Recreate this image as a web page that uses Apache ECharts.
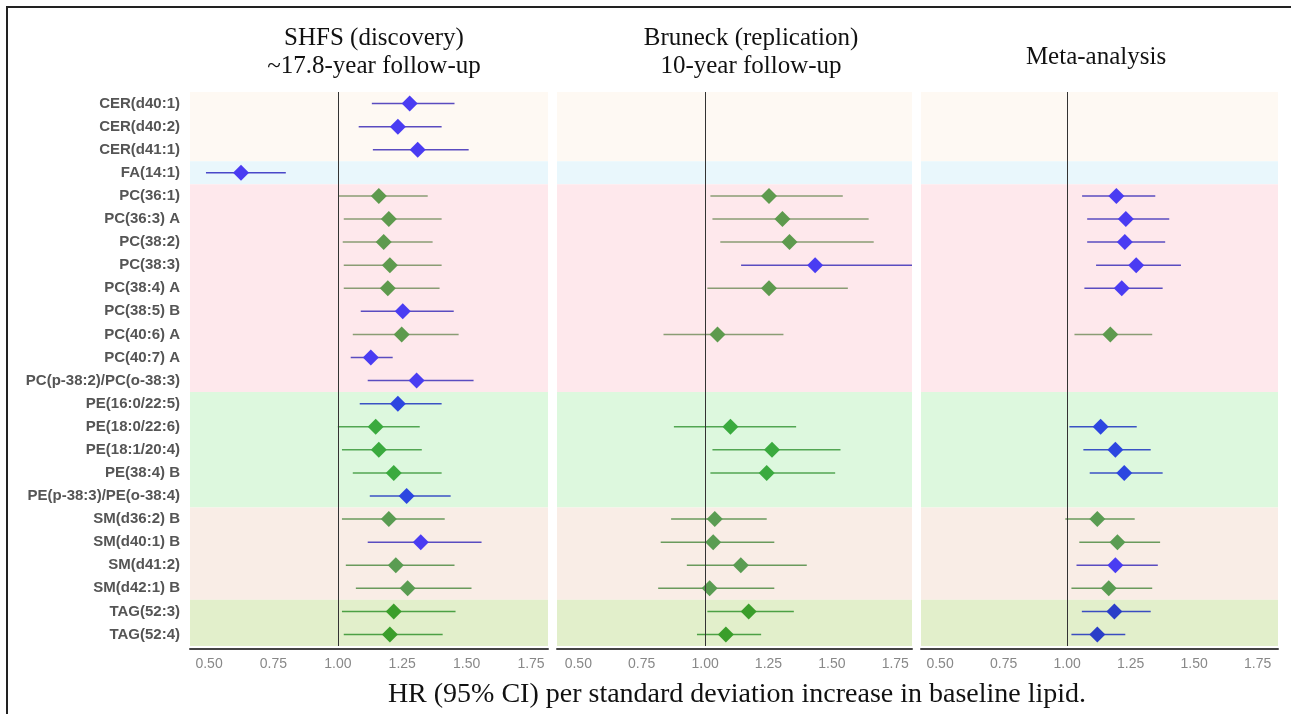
<!DOCTYPE html>
<html>
<head>
<meta charset="utf-8">
<script src="https://cdn.jsdelivr.net/npm/echarts@6/dist/echarts.min.js"></script>
<style>
  html, body { margin: 0; padding: 0; background: #fff; }
  #chart { width: 1291px; height: 714px; }
</style>
</head>
<body>
<div id="chart"></div>
<script>
// lipid species, top to bottom
const lipids = [
  'CER(d40:1)', 'CER(d40:2)', 'CER(d41:1)', 'FA(14:1)',
  'PC(36:1)', 'PC(36:3) A', 'PC(38:2)', 'PC(38:3)', 'PC(38:4) A', 'PC(38:5) B',
  'PC(40:6) A', 'PC(40:7) A', 'PC(p-38:2)/PC(o-38:3)',
  'PE(16:0/22:5)', 'PE(18:0/22:6)', 'PE(18:1/20:4)', 'PE(38:4) B', 'PE(p-38:3)/PE(o-38:4)',
  'SM(d36:2) B', 'SM(d40:1) B', 'SM(d41:2)', 'SM(d42:1) B',
  'TAG(52:3)', 'TAG(52:4)'
];

// SHFS (discovery)
const shfsHR = [1.279, 1.233, 1.310, 0.624, 1.159, 1.198, 1.178, 1.202, 1.194, 1.252, 1.248, 1.128, 1.306,
  1.233, 1.147, 1.159, 1.217, 1.267, 1.198, 1.322, 1.225, 1.271, 1.217, 1.202];
const shfsLo = [1.132, 1.081, 1.136, 0.488, 1.002, 1.023, 1.019, 1.023, 1.023, 1.089, 1.058, 1.050, 1.116,
  1.085, 1.000, 1.016, 1.058, 1.124, 1.016, 1.116, 1.031, 1.070, 1.016, 1.023];
const shfsHi = [1.453, 1.403, 1.508, 0.798, 1.349, 1.403, 1.368, 1.403, 1.395, 1.450, 1.469, 1.213, 1.527,
  1.403, 1.318, 1.326, 1.403, 1.438, 1.415, 1.558, 1.453, 1.519, 1.457, 1.407];
const shfsSig = ['b', 'b', 'b', 'b', 'g', 'g', 'g', 'g', 'g', 'b', 'g', 'b', 'b',
  'b', 'g', 'g', 'g', 'b', 'g', 'b', 'g', 'g', 'g', 'g'];

// Bruneck (replication)
const bruneckHR = [null, null, null, null, 1.252, 1.305, 1.333, 1.434, 1.252, null, 1.049, null, null,
  null, 1.100, 1.264, 1.243, null, 1.038, 1.032, 1.141, 1.018, 1.172, 1.082];
const bruneckLo = [null, null, null, null, 1.021, 1.029, 1.060, 1.142, 1.009, null, 0.836, null, null,
  null, 0.877, 1.029, 1.021, null, 0.866, 0.825, 0.928, 0.815, 1.009, 0.968];
const bruneckHi = [null, null, null, null, 1.543, 1.645, 1.665, 1.830, 1.563, null, 1.309, null, null,
  null, 1.359, 1.534, 1.513, null, 1.243, 1.273, 1.401, 1.273, 1.350, 1.221];
const bruneckSig = ['', '', '', '', 'g', 'g', 'g', 'b', 'g', '', 'g', '', '',
  '', 'g', 'g', 'g', '', 'g', 'g', 'g', 'g', 'g', 'g'];

// Meta-analysis
const metaHR = [null, null, null, null, 1.194, 1.231, 1.227, 1.272, 1.215, null, 1.170, null, null,
  null, 1.132, 1.190, 1.225, null, 1.119, 1.198, 1.190, 1.164, 1.186, 1.119];
const metaLo = [null, null, null, null, 1.059, 1.079, 1.079, 1.114, 1.068, null, 1.029, null, null,
  null, 1.009, 1.064, 1.089, null, 0.993, 1.048, 1.037, 1.017, 1.058, 1.017];
const metaHi = [null, null, null, null, 1.347, 1.402, 1.386, 1.448, 1.376, null, 1.335, null, null,
  null, 1.274, 1.329, 1.376, null, 1.266, 1.366, 1.357, 1.335, 1.329, 1.229];
const metaSig = ['', '', '', '', 'b', 'b', 'b', 'b', 'b', '', 'g', '', '',
  '', 'b', 'b', 'b', '', 'g', 'g', 'b', 'g', 'b', 'b'];

const xTicks = [0.5, 0.75, 1.0, 1.25, 1.5, 1.75];

// background colour per lipid class
const bandColors = {
  CER: '#fef9f3', FA: '#e9f7fc', PC: '#fee8ec', PE: '#ddf8de', SM: '#f9ede6', TAG: '#e2efcb'
};
// marker / whisker colours per class and colour group
const palette = {
  b: { CER: ['#4a3cf2', '#5a4cc0'], FA: ['#4a3cf2', '#4a48c8'], PC: ['#4a3cf2', '#5a4cc0'],
       PE: ['#2c46e0', '#3a52c4'], SM: ['#4a3cf2', '#5a4cc0'], TAG: ['#2a3ec8', '#3a4cc0'] },
  g: { CER: ['#5e9a4e', '#8a9c74'], FA: ['#5e9a4e', '#8a9c74'], PC: ['#5e9a4e', '#8a9c74'],
       PE: ['#3aaa3e', '#52a652'], SM: ['#5a9c52', '#6a9a5c'], TAG: ['#3a9e2a', '#4ca044'] }
};

const lipidClass = name => name.split('(')[0];

// contiguous class bands
const bands = [];
lipids.forEach((name, i) => {
  const c = lipidClass(name);
  const last = bands[bands.length - 1];
  if (last && last.cls === c) last.end = i;
  else bands.push({ cls: c, start: i, end: i });
});

const panels = [
  { hr: shfsHR, lo: shfsLo, hi: shfsHi, sig: shfsSig, left: 190, width: 358 },
  { hr: bruneckHR, lo: bruneckLo, hi: bruneckHi, sig: bruneckSig, left: 557, width: 355 },
  { hr: metaHR, lo: metaLo, hi: metaHi, sig: metaSig, left: 921, width: 357 }
];
const xRanges = [[0.426, 1.816], [0.416, 1.816], [0.425, 1.830]];

const serif = '"Liberation Serif", "Times New Roman", serif';
const sans = '"Liberation Sans", Arial, sans-serif';

const chart = echarts.init(document.getElementById('chart'), null, { renderer: 'canvas' });

const grids = [], xAxes = [], yAxes = [], series = [];
panels.forEach((p, k) => {
  grids.push({ left: p.left, width: p.width, top: 92, bottom: 68 });
  xAxes.push({
    type: 'value', gridIndex: k, min: xRanges[k][0], max: xRanges[k][1], offset: 3,
    axisLine: { show: true, onZero: false, lineStyle: { color: '#444', width: 2 } },
    axisTick: { show: false },
    splitLine: { show: false },
    axisLabel: {
      customValues: xTicks, formatter: v => v.toFixed(2),
      color: '#888', fontFamily: sans, fontSize: 14, margin: 8
    }
  });
  yAxes.push({
    type: 'value', gridIndex: k, min: -0.5, max: 23.5, inverse: true,
    axisLine: { show: false }, axisTick: { show: false }, splitLine: { show: false },
    axisLabel: {
      show: k === 0,
      customValues: lipids.map((_, i) => i),
      formatter: v => lipids[Math.round(v)] || '',
      color: '#555', fontFamily: sans, fontSize: 15, fontWeight: 'bold', margin: 10
    }
  });

  const ciData = [], ptData = [];
  p.hr.forEach((v, i) => {
    if (v == null) return;
    const cols = palette[p.sig[i]][lipidClass(lipids[i])];
    ciData.push({ value: [p.lo[i], p.hi[i], i], itemStyle: { color: cols[1] } });
    ptData.push({ value: [v, i], itemStyle: { color: cols[0], opacity: 1 } });
  });

  series.push({
    type: 'custom', xAxisIndex: k, yAxisIndex: k, clip: true, silent: true,
    encode: { x: [0, 1], y: 2 },
    data: ciData,
    renderItem: (params, api) => {
      const a = api.coord([api.value(0), api.value(2)]);
      const b = api.coord([api.value(1), api.value(2)]);
      return {
        type: 'line',
        shape: { x1: a[0], y1: a[1], x2: b[0], y2: b[1] },
        style: { stroke: api.visual('color'), lineWidth: 1.5 }
      };
    },
    markArea: {
      silent: true,
      data: bands.map(b => [
        { yAxis: b.start - 0.5, itemStyle: { color: bandColors[b.cls] } },
        { yAxis: b.end + 0.5 }
      ])
    },
    z: 2
  });
  series.push({
    type: 'scatter', xAxisIndex: k, yAxisIndex: k, silent: true,
    symbol: 'diamond', symbolSize: 16,
    itemStyle: { opacity: 1 },
    data: ptData,
    markLine: {
      silent: true, symbol: 'none', label: { show: false },
      lineStyle: { color: '#333', width: 1, type: 'solid' },
      data: [{ xAxis: 1 }]
    },
    z: 3
  });
});

const titleStyle = { fontFamily: serif, fontSize: 25, fontWeight: 'normal', color: '#111', lineHeight: 28 };
const captionStyle = Object.assign({}, titleStyle, { fontSize: 28 });

chart.setOption({
  animation: false,
  backgroundColor: '#fff',
  title: [
    { text: 'SHFS (discovery)\n~17.8-year follow-up', left: 369, top: 19, textAlign: 'center', textStyle: titleStyle },
    { text: 'Bruneck (replication)\n10-year follow-up', left: 746, top: 19, textAlign: 'center', textStyle: titleStyle },
    { text: 'Meta-analysis', left: 1091, top: 38, textAlign: 'center', textStyle: titleStyle },
    { text: 'HR (95% CI) per standard deviation increase in baseline lipid.', left: 732, top: 676,
      textAlign: 'center', textStyle: captionStyle }
  ],
  graphic: [{
    type: 'rect', silent: true,
    shape: { x: 7, y: 7, width: 1320, height: 740 },
    style: { fill: 'none', stroke: '#222', lineWidth: 2 }
  }],
  grid: grids,
  xAxis: xAxes,
  yAxis: yAxes,
  series: series
});
</script>
</body>
</html>
